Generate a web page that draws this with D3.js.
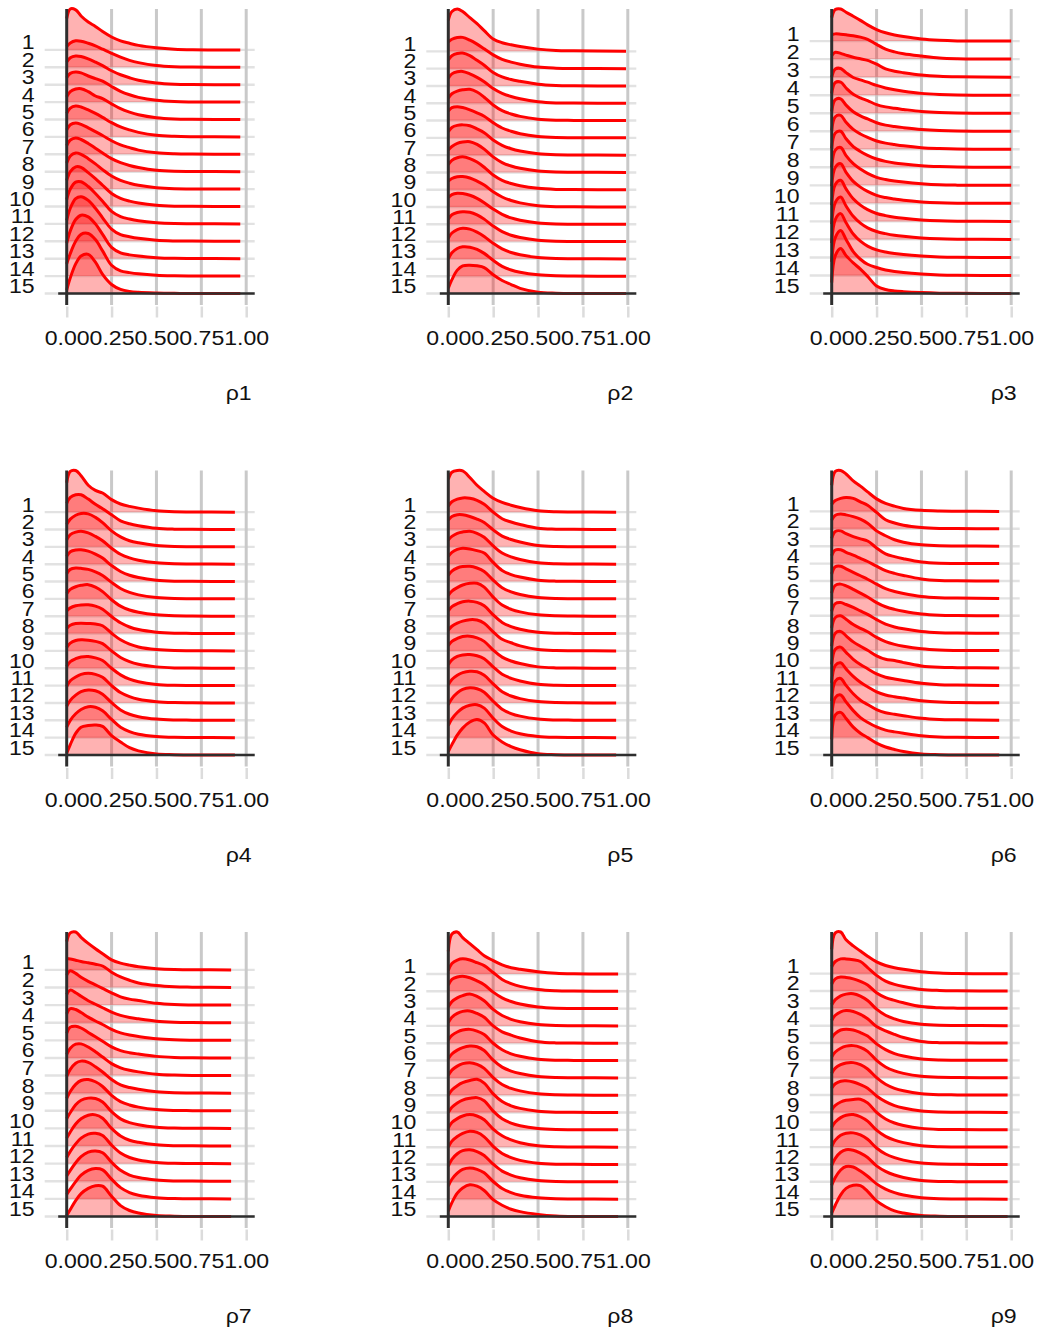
<!DOCTYPE html>
<html><head><meta charset="utf-8">
<script src="https://cdn.jsdelivr.net/npm/d3@7"></script>
<style>body{margin:0;background:#fff}svg{display:block}</style>
</head><body>
<script>
const rowLabels = ["1","2","3","4","5","6","7","8","9","10","11","12","13","14","15"];
const xTicks = [0, 0.25, 0.5, 0.75, 1];
const xTickLabels = ["0.00", "0.25", "0.50", "0.75", "1.00"];
const panelTitles = ["ρ1", "ρ2", "ρ3", "ρ4", "ρ5", "ρ6", "ρ7", "ρ8", "ρ9"];
const densityX = [0, 0.02, 0.05, 0.08, 0.12, 0.16, 0.2, 0.25, 0.3, 0.35, 0.4, 0.5, 0.6, 0.7];
const lineEnds = [0.967, 0.99, 1.0, 0.937, 0.935, 0.933, 0.916, 0.946, 0.98];

const rho1 = [
 [1.8, 2.35, 2.3, 1.95, 1.6, 1.35, 1.05, 0.74, 0.52, 0.38, 0.26, 0.12, 0.04, 0.01],
 [1.2, 1.4, 1.52, 1.5, 1.38, 1.23, 1.04, 0.8, 0.58, 0.4, 0.27, 0.1, 0.03, 0.01],
 [1.3, 1.55, 1.65, 1.62, 1.48, 1.3, 1.1, 0.8, 0.57, 0.4, 0.26, 0.1, 0.03, 0.01],
 [1.4, 1.65, 1.73, 1.68, 1.5, 1.35, 1.2, 0.9, 0.62, 0.42, 0.27, 0.1, 0.03, 0.01],
 [1.3, 1.6, 1.75, 1.77, 1.6, 1.35, 1.2, 0.9, 0.62, 0.42, 0.27, 0.1, 0.03, 0.01],
 [1.35, 1.65, 1.77, 1.72, 1.55, 1.35, 1.12, 0.82, 0.57, 0.4, 0.26, 0.09, 0.03, 0.01],
 [1.4, 1.7, 1.8, 1.72, 1.52, 1.3, 1.08, 0.78, 0.54, 0.38, 0.24, 0.09, 0.03, 0.01],
 [1.5, 1.82, 1.94, 1.85, 1.62, 1.35, 1.08, 0.75, 0.52, 0.36, 0.24, 0.08, 0.02, 0.01],
 [1.5, 1.9, 2.08, 2.0, 1.75, 1.45, 1.12, 0.75, 0.5, 0.34, 0.22, 0.08, 0.02, 0.01],
 [1.5, 2.0, 2.28, 2.25, 1.95, 1.6, 1.22, 0.75, 0.47, 0.31, 0.2, 0.07, 0.02, 0.01],
 [1.4, 2.0, 2.4, 2.42, 2.15, 1.75, 1.3, 0.72, 0.42, 0.28, 0.18, 0.07, 0.02, 0.01],
 [1.2, 1.9, 2.45, 2.56, 2.35, 1.9, 1.35, 0.7, 0.38, 0.26, 0.17, 0.06, 0.02, 0.01],
 [0.9, 1.6, 2.25, 2.5, 2.4, 2.0, 1.4, 0.65, 0.34, 0.22, 0.15, 0.06, 0.02, 0.01],
 [0.7, 1.3, 2.0, 2.4, 2.45, 2.1, 1.45, 0.62, 0.3, 0.2, 0.13, 0.05, 0.02, 0.01],
 [0.2, 0.9, 1.7, 2.15, 2.25, 1.8, 1.1, 0.52, 0.24, 0.12, 0.07, 0.03, 0.01, 0.0]
];
const rho2 = [
 [1.8, 2.3, 2.45, 2.3, 1.95, 1.6, 1.2, 0.72, 0.5, 0.38, 0.28, 0.13, 0.05, 0.03],
 [1.55, 1.7, 1.8, 1.81, 1.65, 1.42, 1.15, 0.8, 0.54, 0.38, 0.26, 0.09, 0.03, 0.01],
 [1.5, 1.75, 1.88, 1.9, 1.75, 1.48, 1.2, 0.78, 0.52, 0.37, 0.27, 0.1, 0.03, 0.01],
 [1.45, 1.7, 1.82, 1.84, 1.7, 1.5, 1.25, 0.85, 0.57, 0.39, 0.26, 0.09, 0.02, 0.01],
 [1.3, 1.55, 1.7, 1.78, 1.81, 1.65, 1.35, 0.9, 0.57, 0.38, 0.24, 0.08, 0.02, 0.01],
 [1.55, 1.75, 1.8, 1.75, 1.62, 1.45, 1.25, 0.88, 0.57, 0.38, 0.24, 0.08, 0.02, 0.01],
 [1.35, 1.6, 1.72, 1.75, 1.7, 1.52, 1.3, 0.88, 0.57, 0.37, 0.24, 0.08, 0.02, 0.01],
 [1.3, 1.5, 1.68, 1.76, 1.78, 1.62, 1.35, 0.9, 0.57, 0.37, 0.24, 0.08, 0.02, 0.01],
 [1.45, 1.7, 1.85, 1.9, 1.8, 1.6, 1.3, 0.85, 0.54, 0.36, 0.23, 0.08, 0.02, 0.01],
 [1.5, 1.65, 1.75, 1.76, 1.68, 1.5, 1.27, 0.88, 0.58, 0.38, 0.24, 0.08, 0.02, 0.01],
 [1.55, 1.72, 1.8, 1.78, 1.68, 1.5, 1.25, 0.88, 0.58, 0.37, 0.24, 0.08, 0.02, 0.01],
 [1.3, 1.55, 1.68, 1.73, 1.7, 1.55, 1.3, 0.9, 0.58, 0.37, 0.24, 0.08, 0.02, 0.01],
 [1.2, 1.5, 1.7, 1.77, 1.72, 1.55, 1.3, 0.9, 0.58, 0.37, 0.24, 0.08, 0.02, 0.01],
 [1.0, 1.35, 1.6, 1.7, 1.68, 1.55, 1.32, 0.92, 0.57, 0.36, 0.23, 0.08, 0.02, 0.01],
 [0.3, 0.8, 1.35, 1.6, 1.64, 1.6, 1.5, 1.08, 0.75, 0.52, 0.3, 0.08, 0.02, 0.0]
];
const rho3 = [
 [1.3, 1.75, 1.78, 1.6, 1.38, 1.15, 0.9, 0.64, 0.46, 0.34, 0.25, 0.11, 0.04, 0.01],
 [1.35, 1.4, 1.38, 1.35, 1.3, 1.22, 1.1, 0.82, 0.55, 0.4, 0.3, 0.17, 0.06, 0.02],
 [1.2, 1.38, 1.32, 1.22, 1.1, 1.02, 0.93, 0.72, 0.46, 0.33, 0.25, 0.12, 0.05, 0.02],
 [1.0, 1.45, 1.48, 1.25, 0.98, 0.85, 0.72, 0.54, 0.4, 0.3, 0.22, 0.1, 0.04, 0.01],
 [1.1, 1.7, 1.72, 1.4, 1.05, 0.85, 0.7, 0.48, 0.35, 0.27, 0.21, 0.1, 0.04, 0.01],
 [1.1, 1.75, 1.8, 1.45, 1.08, 0.85, 0.68, 0.47, 0.34, 0.26, 0.2, 0.1, 0.04, 0.01],
 [1.05, 1.8, 1.88, 1.5, 1.1, 0.85, 0.66, 0.46, 0.34, 0.26, 0.19, 0.09, 0.04, 0.01],
 [1.05, 1.9, 2.0, 1.58, 1.15, 0.88, 0.66, 0.46, 0.33, 0.24, 0.18, 0.09, 0.04, 0.01],
 [1.0, 1.95, 2.1, 1.65, 1.2, 0.9, 0.66, 0.44, 0.32, 0.24, 0.18, 0.09, 0.03, 0.01],
 [0.95, 2.0, 2.2, 1.72, 1.22, 0.9, 0.66, 0.44, 0.32, 0.24, 0.17, 0.08, 0.03, 0.01],
 [0.9, 2.05, 2.28, 1.8, 1.25, 0.9, 0.65, 0.44, 0.32, 0.23, 0.17, 0.08, 0.03, 0.01],
 [0.85, 2.05, 2.35, 1.85, 1.28, 0.9, 0.64, 0.44, 0.32, 0.23, 0.17, 0.08, 0.03, 0.01],
 [0.8, 2.1, 2.43, 1.92, 1.3, 0.9, 0.63, 0.42, 0.3, 0.22, 0.16, 0.08, 0.03, 0.01],
 [0.75, 2.1, 2.5, 2.0, 1.32, 0.9, 0.62, 0.44, 0.3, 0.22, 0.16, 0.08, 0.03, 0.01],
 [0.6, 2.1, 2.5, 2.1, 1.7, 1.35, 0.95, 0.42, 0.22, 0.14, 0.1, 0.05, 0.02, 0.01]
];
const rho4 = [
 [1.7, 2.35, 2.4, 2.1, 1.55, 1.25, 1.1, 0.72, 0.47, 0.33, 0.23, 0.08, 0.02, 0.01],
 [1.5, 1.85, 2.0, 2.0, 1.75, 1.45, 1.2, 0.85, 0.5, 0.33, 0.22, 0.07, 0.02, 0.01],
 [1.3, 1.6, 1.82, 1.92, 1.9, 1.7, 1.4, 0.92, 0.57, 0.35, 0.23, 0.08, 0.02, 0.01],
 [1.4, 1.7, 1.85, 1.9, 1.8, 1.6, 1.35, 0.92, 0.57, 0.36, 0.23, 0.08, 0.02, 0.01],
 [1.45, 1.72, 1.82, 1.83, 1.75, 1.58, 1.35, 0.92, 0.58, 0.36, 0.23, 0.08, 0.02, 0.01],
 [1.45, 1.7, 1.78, 1.76, 1.7, 1.56, 1.35, 0.95, 0.6, 0.37, 0.23, 0.08, 0.02, 0.01],
 [1.3, 1.55, 1.7, 1.78, 1.82, 1.68, 1.42, 0.95, 0.58, 0.36, 0.23, 0.08, 0.02, 0.01],
 [1.3, 1.48, 1.6, 1.65, 1.66, 1.58, 1.4, 0.98, 0.62, 0.38, 0.23, 0.08, 0.02, 0.01],
 [1.3, 1.48, 1.58, 1.6, 1.58, 1.55, 1.45, 1.02, 0.64, 0.39, 0.23, 0.08, 0.02, 0.01],
 [1.2, 1.45, 1.6, 1.64, 1.62, 1.55, 1.42, 1.0, 0.62, 0.38, 0.23, 0.08, 0.02, 0.01],
 [1.1, 1.38, 1.55, 1.65, 1.68, 1.6, 1.45, 1.0, 0.62, 0.37, 0.22, 0.07, 0.02, 0.01],
 [0.95, 1.28, 1.5, 1.65, 1.71, 1.65, 1.48, 1.0, 0.6, 0.36, 0.21, 0.07, 0.02, 0.01],
 [0.8, 1.15, 1.45, 1.65, 1.75, 1.7, 1.5, 1.02, 0.6, 0.35, 0.21, 0.07, 0.02, 0.01],
 [0.6, 1.0, 1.38, 1.62, 1.78, 1.75, 1.55, 1.05, 0.6, 0.35, 0.2, 0.07, 0.02, 0.01],
 [0.1, 0.6, 1.25, 1.6, 1.7, 1.73, 1.65, 1.12, 0.75, 0.42, 0.24, 0.06, 0.02, 0.0]
];
const rho5 = [
 [1.9, 2.3, 2.4, 2.38, 2.0, 1.55, 1.2, 0.8, 0.56, 0.4, 0.27, 0.08, 0.02, 0.01],
 [1.35, 1.6, 1.75, 1.82, 1.8, 1.68, 1.45, 1.0, 0.62, 0.43, 0.29, 0.07, 0.02, 0.01],
 [1.55, 1.75, 1.85, 1.85, 1.75, 1.6, 1.4, 0.98, 0.62, 0.42, 0.28, 0.08, 0.02, 0.01],
 [1.4, 1.6, 1.78, 1.86, 1.9, 1.78, 1.55, 1.05, 0.64, 0.42, 0.27, 0.08, 0.02, 0.01],
 [1.45, 1.68, 1.85, 1.92, 1.88, 1.78, 1.65, 1.1, 0.64, 0.4, 0.26, 0.08, 0.02, 0.01],
 [1.35, 1.6, 1.78, 1.86, 1.88, 1.78, 1.58, 1.08, 0.64, 0.4, 0.25, 0.08, 0.02, 0.01],
 [1.2, 1.45, 1.65, 1.8, 1.9, 1.9, 1.68, 1.1, 0.64, 0.4, 0.25, 0.08, 0.02, 0.01],
 [1.3, 1.55, 1.72, 1.83, 1.87, 1.8, 1.6, 1.08, 0.64, 0.4, 0.25, 0.08, 0.02, 0.01],
 [1.2, 1.42, 1.6, 1.72, 1.8, 1.78, 1.6, 1.1, 0.67, 0.47, 0.29, 0.08, 0.02, 0.01],
 [1.3, 1.55, 1.72, 1.83, 1.85, 1.75, 1.55, 1.05, 0.64, 0.42, 0.27, 0.08, 0.02, 0.01],
 [1.2, 1.48, 1.68, 1.77, 1.79, 1.72, 1.55, 1.08, 0.65, 0.42, 0.27, 0.08, 0.02, 0.01],
 [1.05, 1.35, 1.6, 1.75, 1.83, 1.8, 1.6, 1.1, 0.64, 0.4, 0.25, 0.08, 0.02, 0.01],
 [0.9, 1.25, 1.58, 1.78, 1.87, 1.82, 1.62, 1.1, 0.64, 0.39, 0.24, 0.07, 0.02, 0.01],
 [0.7, 1.08, 1.45, 1.7, 1.87, 1.9, 1.7, 1.12, 0.64, 0.38, 0.22, 0.07, 0.02, 0.01],
 [0.2, 0.6, 1.15, 1.55, 1.9, 2.05, 1.85, 1.15, 0.75, 0.48, 0.3, 0.07, 0.02, 0.0]
];
const rho6 = [
 [1.5, 2.3, 2.35, 2.15, 1.75, 1.45, 1.12, 0.72, 0.46, 0.3, 0.17, 0.06, 0.02, 0.01],
 [1.4, 1.62, 1.75, 1.8, 1.75, 1.55, 1.35, 0.94, 0.52, 0.33, 0.2, 0.07, 0.02, 0.01],
 [1.5, 1.78, 1.85, 1.8, 1.7, 1.55, 1.32, 0.88, 0.6, 0.37, 0.23, 0.08, 0.02, 0.01],
 [1.45, 1.85, 1.88, 1.72, 1.55, 1.42, 1.3, 0.9, 0.56, 0.4, 0.28, 0.09, 0.02, 0.01],
 [1.45, 1.78, 1.8, 1.65, 1.48, 1.3, 1.12, 0.85, 0.6, 0.44, 0.32, 0.12, 0.03, 0.01],
 [1.4, 1.82, 1.85, 1.7, 1.5, 1.3, 1.1, 0.82, 0.56, 0.4, 0.28, 0.11, 0.04, 0.02],
 [1.3, 1.75, 1.82, 1.72, 1.52, 1.3, 1.08, 0.76, 0.52, 0.37, 0.26, 0.1, 0.03, 0.01],
 [1.25, 1.7, 1.76, 1.65, 1.48, 1.28, 1.08, 0.78, 0.52, 0.36, 0.25, 0.1, 0.03, 0.01],
 [1.3, 1.9, 2.0, 1.8, 1.5, 1.28, 1.08, 0.76, 0.52, 0.36, 0.25, 0.1, 0.03, 0.01],
 [1.25, 2.0, 2.1, 1.85, 1.5, 1.25, 1.02, 0.7, 0.5, 0.43, 0.31, 0.12, 0.04, 0.02],
 [1.2, 2.08, 2.2, 1.9, 1.5, 1.2, 0.96, 0.66, 0.47, 0.37, 0.28, 0.12, 0.04, 0.02],
 [1.15, 2.15, 2.3, 1.95, 1.52, 1.18, 0.92, 0.63, 0.45, 0.35, 0.27, 0.12, 0.04, 0.02],
 [1.1, 2.25, 2.4, 2.0, 1.52, 1.15, 0.9, 0.61, 0.43, 0.34, 0.26, 0.11, 0.04, 0.02],
 [1.0, 2.3, 2.45, 2.05, 1.55, 1.15, 0.88, 0.61, 0.43, 0.33, 0.25, 0.11, 0.04, 0.02],
 [0.9, 2.3, 2.45, 2.1, 1.6, 1.25, 1.0, 0.68, 0.46, 0.32, 0.2, 0.06, 0.02, 0.0]
];
const rho7 = [
 [1.6, 2.1, 2.15, 1.85, 1.5, 1.2, 0.92, 0.57, 0.38, 0.27, 0.18, 0.07, 0.02, 0.01],
 [1.65, 1.62, 1.55, 1.48, 1.4, 1.32, 1.22, 0.87, 0.6, 0.41, 0.26, 0.11, 0.04, 0.02],
 [1.7, 1.95, 1.8, 1.58, 1.35, 1.15, 0.95, 0.7, 0.47, 0.34, 0.26, 0.1, 0.03, 0.01],
 [1.6, 1.85, 1.7, 1.5, 1.25, 1.05, 0.85, 0.6, 0.42, 0.3, 0.22, 0.09, 0.03, 0.01],
 [1.5, 1.8, 1.75, 1.58, 1.32, 1.1, 0.9, 0.62, 0.42, 0.3, 0.22, 0.09, 0.03, 0.01],
 [1.4, 1.75, 1.8, 1.7, 1.45, 1.2, 0.95, 0.63, 0.42, 0.3, 0.22, 0.09, 0.03, 0.01],
 [1.2, 1.55, 1.78, 1.8, 1.62, 1.35, 1.05, 0.68, 0.44, 0.3, 0.21, 0.08, 0.03, 0.01],
 [0.95, 1.35, 1.7, 1.82, 1.75, 1.5, 1.2, 0.78, 0.47, 0.32, 0.22, 0.08, 0.02, 0.01],
 [0.7, 1.1, 1.5, 1.72, 1.78, 1.65, 1.38, 0.88, 0.52, 0.33, 0.21, 0.07, 0.02, 0.01],
 [0.55, 0.9, 1.35, 1.6, 1.72, 1.7, 1.5, 0.95, 0.54, 0.33, 0.21, 0.07, 0.02, 0.01],
 [0.45, 0.8, 1.25, 1.55, 1.75, 1.77, 1.58, 1.0, 0.57, 0.33, 0.21, 0.07, 0.02, 0.01],
 [0.35, 0.7, 1.12, 1.45, 1.68, 1.72, 1.6, 1.05, 0.6, 0.35, 0.21, 0.07, 0.02, 0.01],
 [0.3, 0.62, 1.05, 1.4, 1.65, 1.72, 1.62, 1.08, 0.62, 0.35, 0.21, 0.07, 0.02, 0.01],
 [0.25, 0.55, 0.98, 1.35, 1.62, 1.72, 1.65, 1.12, 0.64, 0.36, 0.21, 0.07, 0.02, 0.01],
 [0.05, 0.4, 0.9, 1.3, 1.6, 1.75, 1.72, 1.15, 0.62, 0.34, 0.2, 0.06, 0.02, 0.0]
];
const rho8 = [
 [1.3, 2.3, 2.42, 2.1, 1.75, 1.4, 1.05, 0.77, 0.52, 0.36, 0.27, 0.13, 0.04, 0.01],
 [1.2, 1.6, 1.8, 1.87, 1.8, 1.65, 1.48, 1.08, 0.68, 0.44, 0.28, 0.1, 0.03, 0.01],
 [1.35, 1.68, 1.82, 1.86, 1.78, 1.6, 1.38, 0.95, 0.62, 0.41, 0.26, 0.09, 0.02, 0.01],
 [1.1, 1.4, 1.62, 1.75, 1.84, 1.7, 1.45, 0.95, 0.6, 0.38, 0.24, 0.08, 0.02, 0.01],
 [1.2, 1.5, 1.72, 1.84, 1.86, 1.72, 1.5, 1.0, 0.66, 0.47, 0.3, 0.09, 0.02, 0.01],
 [1.2, 1.45, 1.65, 1.76, 1.8, 1.7, 1.5, 1.0, 0.62, 0.39, 0.25, 0.08, 0.02, 0.01],
 [1.1, 1.38, 1.6, 1.75, 1.84, 1.8, 1.58, 1.02, 0.62, 0.39, 0.25, 0.08, 0.02, 0.01],
 [1.15, 1.45, 1.68, 1.82, 1.88, 1.78, 1.55, 1.02, 0.62, 0.39, 0.25, 0.08, 0.02, 0.01],
 [1.0, 1.3, 1.55, 1.72, 1.85, 1.92, 1.7, 1.08, 0.64, 0.39, 0.24, 0.08, 0.02, 0.01],
 [1.0, 1.3, 1.55, 1.72, 1.82, 1.86, 1.68, 1.08, 0.64, 0.39, 0.24, 0.08, 0.02, 0.01],
 [1.1, 1.42, 1.65, 1.8, 1.88, 1.8, 1.58, 1.05, 0.66, 0.42, 0.26, 0.08, 0.02, 0.01],
 [1.0, 1.35, 1.62, 1.8, 1.92, 1.85, 1.6, 1.05, 0.64, 0.4, 0.24, 0.08, 0.02, 0.01],
 [0.9, 1.3, 1.62, 1.8, 1.85, 1.75, 1.52, 1.02, 0.62, 0.39, 0.24, 0.08, 0.02, 0.01],
 [0.75, 1.15, 1.5, 1.72, 1.8, 1.72, 1.52, 1.02, 0.62, 0.38, 0.23, 0.08, 0.02, 0.01],
 [0.3, 0.8, 1.35, 1.65, 1.83, 1.75, 1.5, 0.97, 0.65, 0.42, 0.28, 0.12, 0.03, 0.0]
];
const rho9 = [
 [1.4, 2.35, 2.4, 1.95, 1.6, 1.3, 1.0, 0.68, 0.47, 0.34, 0.25, 0.11, 0.04, 0.01],
 [1.4, 1.7, 1.85, 1.85, 1.8, 1.7, 1.35, 0.9, 0.57, 0.38, 0.26, 0.09, 0.03, 0.01],
 [1.4, 1.7, 1.8, 1.78, 1.7, 1.55, 1.35, 0.9, 0.62, 0.46, 0.32, 0.1, 0.03, 0.01],
 [1.2, 1.5, 1.72, 1.82, 1.84, 1.7, 1.45, 0.95, 0.6, 0.39, 0.24, 0.08, 0.02, 0.01],
 [1.3, 1.6, 1.8, 1.87, 1.82, 1.65, 1.4, 0.95, 0.7, 0.5, 0.32, 0.09, 0.02, 0.01],
 [1.3, 1.55, 1.75, 1.8, 1.75, 1.6, 1.4, 0.95, 0.62, 0.39, 0.25, 0.08, 0.02, 0.01],
 [1.2, 1.48, 1.7, 1.82, 1.85, 1.75, 1.52, 1.0, 0.62, 0.39, 0.25, 0.08, 0.02, 0.01],
 [1.25, 1.55, 1.75, 1.85, 1.87, 1.75, 1.5, 1.0, 0.62, 0.39, 0.25, 0.08, 0.02, 0.01],
 [1.4, 1.65, 1.8, 1.82, 1.75, 1.6, 1.4, 0.95, 0.62, 0.39, 0.25, 0.08, 0.02, 0.01],
 [1.15, 1.4, 1.6, 1.7, 1.75, 1.76, 1.55, 1.0, 0.62, 0.39, 0.25, 0.08, 0.02, 0.01],
 [1.15, 1.45, 1.7, 1.84, 1.88, 1.75, 1.5, 0.98, 0.62, 0.4, 0.26, 0.08, 0.02, 0.01],
 [1.05, 1.4, 1.68, 1.8, 1.82, 1.7, 1.45, 0.95, 0.6, 0.39, 0.25, 0.08, 0.02, 0.01],
 [0.95, 1.35, 1.7, 1.85, 1.82, 1.65, 1.4, 0.92, 0.6, 0.39, 0.25, 0.08, 0.02, 0.01],
 [0.8, 1.25, 1.68, 1.88, 1.85, 1.62, 1.32, 0.88, 0.58, 0.38, 0.24, 0.08, 0.02, 0.01],
 [0.2, 0.65, 1.25, 1.62, 1.8, 1.78, 1.45, 0.9, 0.56, 0.32, 0.2, 0.06, 0.02, 0.0]
];
const panels = [rho1, rho2, rho3, rho4, rho5, rho6, rho7, rho8, rho9];

const W = 1038, H = 1335;
const FONT = "'Liberation Sans', Arial, Helvetica, sans-serif";
const TXT = "#111111";
const svg = d3.select("body").append("svg").attr("width", W).attr("height", H);
svg.append("rect").attr("width", W).attr("height", H).attr("fill", "#ffffff");

const colAxisX = [66.7, 448.3, 831.7];
const rowAxisY = [293.5, 755, 1216.5];
const panelH = 284.5, xSpan = 179.5;
const curve = d3.curveCatmullRom.alpha(0.5);

panels.forEach((ridges, p) => {
  const ax = colAxisX[p % 3], ay = rowAxisY[Math.floor(p / 3)];
  const end = lineEnds[p];
  const g = svg.append("g");
  const x = d3.scaleLinear().domain([0, 1]).range([ax, ax + xSpan]);
  const n = ridges.length;
  const ext = d3.max(ridges, (h, k) => (n - 1 - k) + d3.max(h));
  const y = d3.scaleLinear().domain([0, ext]).range([ay, ay - panelH]);
  const top = ay - panelH, bottom = ay + 11.5;

  // horizontal grid lines at ridge baselines
  g.selectAll("line.hg").data(rowLabels).join("line")
    .attr("x1", ax - 22).attr("x2", ax + 188)
    .attr("y1", (d, k) => y(n - 1 - k)).attr("y2", (d, k) => y(n - 1 - k))
    .attr("stroke", "#e2e2e2").attr("stroke-width", 2.4);

  // vertical grid lines
  g.selectAll("line.vg").data(xTicks.slice(1)).join("line")
    .attr("x1", d => x(d)).attr("x2", d => x(d))
    .attr("y1", top).attr("y2", bottom)
    .attr("stroke", "#c9c9c9").attr("stroke-width", 3);

  // x axis ticks + labels
  const axis = d3.axisBottom(x).tickValues(xTicks)
    .tickFormat((d, i) => xTickLabels[i]).tickSize(11).tickPadding(12.7);
  const axG = g.append("g").attr("transform", `translate(0,${ay + 13})`).call(axis);
  axG.select(".domain").remove();
  axG.selectAll(".tick line").attr("stroke", "#dcdcdc").attr("stroke-width", 2.5);
  axG.selectAll(".tick text").attr("fill", TXT).attr("font-size", 21).attr("font-family", FONT)
    .attr("transform", "scale(1.1,1)");

  // ridges
  ridges.forEach((h, k) => {
    const base = n - 1 - k;
    const pts = densityX.map((xv, i) => [xv, h[i]]);
    pts.push([end, 0]);
    const area = d3.area().x(d => x(d[0])).y0(y(base)).y1(d => y(base + Math.max(0, d[1]))).curve(curve);
    const line = d3.line().x(d => x(d[0])).y(d => y(base + d[1])).curve(curve);
    g.append("path").attr("d", area(pts)).attr("fill", "#ff0000").attr("fill-opacity", 0.3);
    g.append("path").attr("d", line(pts)).attr("fill", "none").attr("stroke", "#ff0000")
      .attr("stroke-width", 3).attr("stroke-linejoin", "round").attr("stroke-linecap", "butt");
  });

  // dark axis lines
  g.append("line").attr("x1", x(0)).attr("x2", x(0)).attr("y1", top).attr("y2", bottom)
    .attr("stroke", "#2e2e2e").attr("stroke-width", 3);
  g.append("line").attr("x1", ax - 8.5).attr("x2", ax + 188).attr("y1", ay).attr("y2", ay)
    .attr("stroke", "#2e2e2e").attr("stroke-width", 2.6);

  // y labels (baseline sits on the ridge baseline)
  g.selectAll("text.yl").data(rowLabels).join("text")
    .attr("transform", (d, k) => `translate(${ax - 32},${y(n - 1 - k) - 0.5}) scale(1.1,1)`)
    .attr("text-anchor", "end").attr("font-size", 21).attr("font-family", FONT)
    .attr("fill", TXT).text(d => d);

  // axis title
  g.append("text").attr("transform", `translate(${ax + 185},${ay + 106.5}) scale(1.1,1)`)
    .attr("text-anchor", "end").attr("font-size", 21).attr("font-family", FONT)
    .attr("fill", TXT).text(panelTitles[p]);
});
</script>
</body></html>
